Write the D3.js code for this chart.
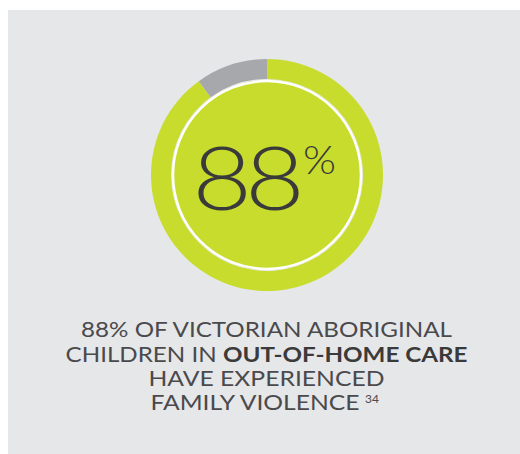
<!DOCTYPE html>
<html>
<head>
<meta charset="utf-8">
<script src="https://cdn.jsdelivr.net/npm/d3@7"></script>
<style>
  body { margin: 0; background: #fff; }
  svg text { font-family: "Lato", "Open Sans", sans-serif; }
</style>
</head>
<body>
<div class="visHolder"></div>
<script>
var width = 520,
    height = 454;

// ring shares
var ringLabels = ["Experienced family violence", "Not reported"];
var ringValues = [90, 10];
var ringColors = ["#c8dc2e", "#a7a8ab"];

var headline = "88";
var headlineUnit = "%";

var captionLines = [
  [{ t: "88% OF VICTORIAN ABORIGINAL", b: false }],
  [{ t: "CHILDREN IN ", b: false }, { t: "OUT-OF-HOME CARE", b: true }],
  [{ t: "HAVE EXPERIENCED", b: false }],
  [{ t: "FAMILY VIOLENCE", b: false }]
];
var captionWidths = [371, 402, 236, 209];
var footnote = "34";

var svg = d3.select('.visHolder')
  .append('svg')
  .attr('width', width)
  .attr('height', height);

// grey panel
svg.append('rect')
  .attr('x', 8).attr('y', 10)
  .attr('width', width - 8).attr('height', height - 10)
  .attr('fill', '#e6e7e9');

var cx = 267, cy = 175, outerR = 116, innerR = 96;

var g = svg.append('g').attr('transform', 'translate(' + cx + ',' + cy + ')');

var pie = d3.pie().sort(null).value(function (d) { return d; });
var arc = d3.arc().innerRadius(innerR).outerRadius(outerR);

g.selectAll('path.slice')
  .data(pie(ringValues))
  .enter()
  .append('path')
  .attr('class', 'slice')
  .attr('d', arc)
  .attr('fill', function (d, i) { return ringColors[i]; })
  .append('title')
  .text(function (d, i) { return ringLabels[i]; });

// inner disc + white rim
g.append('circle')
  .attr('r', innerR - 1)
  .attr('fill', ringColors[0]);
g.append('circle')
  .attr('r', innerR - 2)
  .attr('fill', 'none')
  .attr('stroke', '#fff')
  .attr('stroke-width', 2.5);

// big number (widened, geometric look)
svg.append('text')
  .attr('transform', 'translate(245,209.5) scale(1.17,1)')
  .attr('text-anchor', 'middle')
  .attr('font-size', 88)
  .attr('font-weight', 300)
  .attr('letter-spacing', -6)
  .attr('fill', '#3a3a3a')
  .text(headline);

svg.append('text')
  .attr('x', 303).attr('y', 174)
  .attr('font-size', 40)
  .attr('font-weight', 300)
  .attr('fill', '#3a3a3a')
  .attr('textLength', 33)
  .attr('lengthAdjust', 'spacingAndGlyphs')
  .text(headlineUnit);

// caption
var baselines = [337.3, 361.7, 385.7, 410];
captionLines.forEach(function (line, i) {
  var t = svg.append('text')
    .attr('x', i === 3 ? 255 : 266.5)
    .attr('y', baselines[i])
    .attr('text-anchor', 'middle')
    .attr('font-size', 21)
    .attr('fill', '#4a4a4c')
    .attr('textLength', captionWidths[i])
    .attr('lengthAdjust', 'spacingAndGlyphs');
  line.forEach(function (s) {
    t.append('tspan')
      .attr('font-weight', s.b ? 700 : 400)
      .attr('fill', s.b ? '#3a3a3a' : '#4a4a4c')
      .text(s.t);
  });
});

svg.append('text')
  .attr('x', 365).attr('y', 403)
  .attr('font-size', 12)
  .attr('fill', '#4a4a4c')
  .text(footnote);
</script>
</body>
</html>
